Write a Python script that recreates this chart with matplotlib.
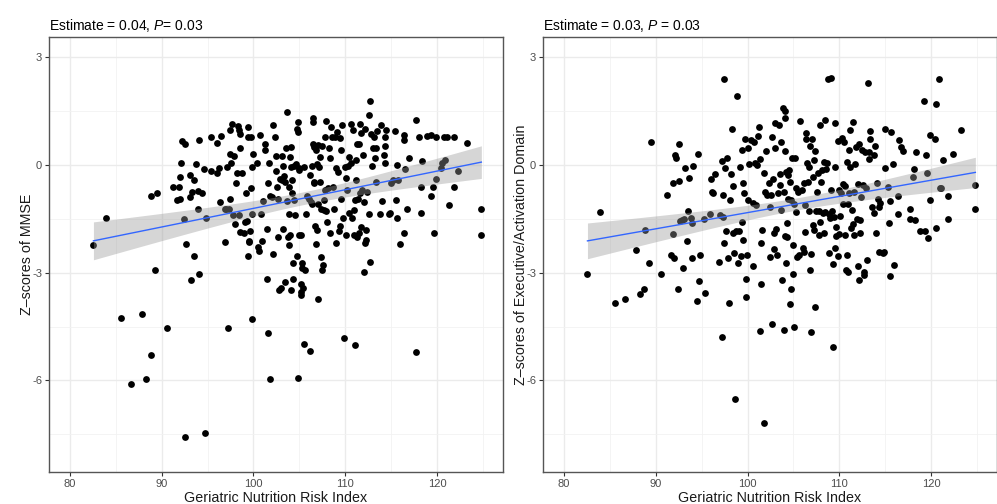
"""Scatter plots of GNRI against cognitive z-scores with linear fits."""

import numpy as np
import matplotlib

matplotlib.use("Agg")
import matplotlib.pyplot as plt

plt.rcParams["font.family"] = ["Liberation Sans", "DejaVu Sans"]
plt.rcParams["mathtext.fontset"] = "custom"
plt.rcParams["mathtext.rm"] = "Liberation Sans"
plt.rcParams["mathtext.it"] = "Liberation Sans:italic"
plt.rcParams["axes.unicode_minus"] = False

# --- data ------------------------------------------------------------------
GNRI_MMSE = [
    82.55, 83.96, 85.56, 86.65, 87.85, 88.25, 88.8, 88.87, 89.27, 89.53,
    90.55, 91.24, 91.93, 91.67, 92.0, 91.96, 92.15, 92.22, 92.58, 92.47,
    92.65, 92.5, 93.05, 93.09, 93.2, 93.27, 93.49, 93.49, 93.75, 93.93,
    94.0, 94.04, 94.11, 94.44, 94.55, 94.76, 94.87, 95.38, 95.35, 96.0,
    96.04, 96.25, 96.33, 96.47, 96.84, 96.84, 97.0, 97.2, 97.09, 97.3,
    97.42, 97.45, 97.49, 97.56, 97.67, 97.75, 97.82, 97.96, 98.04, 98.18,
    98.36, 98.4, 98.47, 98.51, 98.55, 98.58, 98.8, 98.95, 99.05, 99.13,
    99.24, 99.35, 99.38, 99.42, 99.53, 99.6, 99.56, 99.75, 99.78, 99.82,
    99.85, 99.89, 100.0, 100.33, 100.47, 100.58, 100.76, 100.84, 100.95, 101.09,
    101.2, 101.27, 101.42, 101.49, 101.53, 101.53, 101.67, 101.85, 101.85, 102.04,
    102.11, 102.11, 102.36, 102.47, 102.5, 102.58, 102.65, 102.65, 102.73, 102.84,
    103.02, 103.09, 103.13, 103.2, 103.24, 103.31, 103.45, 103.45, 103.56, 103.64,
    103.67, 103.75, 103.82, 103.82, 103.89, 103.96, 104.0, 104.04, 104.07, 104.11,
    104.15, 104.25, 104.29, 104.33, 104.4, 104.47, 104.55, 104.65, 104.69, 104.76,
    104.8, 104.84, 104.84, 104.91, 104.95, 104.98, 105.13, 105.16, 105.2, 105.2,
    105.27, 105.31, 105.38, 105.49, 105.56, 105.64, 105.75, 105.85, 106.07, 106.11,
    106.15, 106.29, 106.33, 106.4, 106.47, 106.47, 106.47, 106.55, 106.58, 106.65,
    106.69, 106.8, 106.84, 106.87, 106.95, 107.02, 107.02, 107.02, 107.09, 107.2,
    107.27, 107.31, 107.38, 107.42, 107.45, 107.53, 107.64, 107.67, 107.75, 107.78,
    107.93, 107.93, 108.0, 108.11, 108.18, 108.29, 108.36, 108.47, 108.55, 108.65,
    108.8, 108.87, 108.95, 109.02, 109.13, 109.2, 109.27, 109.38, 109.45, 109.56,
    109.64, 109.56, 109.75, 109.85, 109.93, 110.04, 110.11, 110.18, 110.29, 110.36,
    110.44, 110.58, 110.65, 110.76, 110.84, 110.91, 110.95, 111.02, 111.05, 111.13,
    111.2, 111.27, 111.31, 111.38, 111.45, 111.53, 111.56, 111.64, 111.67, 111.75,
    111.82, 111.93, 112.0, 112.04, 112.11, 112.18, 112.22, 112.29, 112.4, 112.55,
    112.62, 112.69, 112.73, 112.84, 112.91, 113.02, 113.13, 113.2, 113.31, 113.38,
    113.45, 113.82, 113.93, 114.02, 114.18, 114.29, 114.29, 114.36, 114.47, 114.73,
    114.84, 115.02, 115.2, 115.38, 115.56, 115.64, 115.64, 115.75, 115.93, 116.36,
    116.4, 116.4, 116.55, 116.76, 116.91, 117.67, 117.75, 118.04, 118.22, 118.29,
    118.36, 118.95, 119.31, 119.38, 119.56, 119.64, 119.85, 119.93, 120.4, 120.55,
    120.76, 120.84, 121.09, 121.31, 121.82, 121.85, 122.29, 123.31, 124.84, 124.84,
]
Z_MMSE = [
    -2.23, -1.47, -4.27, -6.11, -4.15, -5.96, -5.28, -0.86, -2.92, -0.77,
    -4.55, -0.62, -0.62, -0.97, -0.95, -0.32, 0.05, 0.67, 0.60, -1.49,
    -2.21, -7.58, -0.88, -0.28, -3.21, -0.76, -0.42, -2.53, 0.03, -0.71,
    -1.23, -3.04, 0.71, -0.77, -0.12, -7.47, -1.47, 0.79, -0.15, 0.63,
    -0.21, -0.09, -1.04, 0.81, -2.14, -1.21, -1.23, -4.55, -0.05, -1.22,
    0.97, -0.93, 0.30, 0.06, 1.15, -1.39, 0.26, -1.64, -0.49, -0.21,
    1.09, -1.39, 0.97, 0.86, -1.85, 0.48, -0.23, -1.89, -1.58, -0.77,
    -1.56, -2.53, 1.06, 0.79, -2.11, -1.83, -2.15, 0.79, -0.63, -0.05,
    -1.36, -4.3, 0.32, 0.05, -2.27, -2.40, 0.84, -1.35, -2.11, -1.0,
    0.58, 0.42, -3.17, -1.77, -0.51, -4.69, 0.07, -5.96, -0.86, -0.88,
    1.11, -2.48, 0.79, 0.26, -0.17, -0.62, -0.95, -2.0, -3.48, -0.40,
    -3.42, -0.42, 0.26, -1.79, -0.02, -0.31, -0.46, -3.25, 0.48, -1.0,
    1.49, -2.0, -2.23, -1.36, -0.6, -1.96, 0.23, -3.48, -0.05, 0.51,
    -0.77, -0.42, -2.72, -3.17, -0.02, -0.96, -1.39, 0.03, -2.53, 1.02,
    -5.94, 1.21, 0.93, -0.14, -0.08, -1.95, -3.31, -3.62, -1.95, -3.53,
    -2.74, -2.86, -3.41, -0.06, -4.97, -2.91, -1.35, -0.86, -0.93, -0.28,
    -5.18, -1.02, -0.02, -1.07, 1.30, 1.21, 0.58, -0.51, -0.46, 0.51,
    -1.70, 0.42, -2.21, 0.03, -1.81, -3.74, 0.56, -1.09, -0.05, 0.23,
    -0.46, -2.55, -1.21, -2.91, 0.53, -2.79, -1.25, -0.97, 0.79, -0.68,
    1.23, -1.27, -1.58, -0.65, 0.48, 0.19, -1.90, 1.07, 0.79, -0.62,
    -1.23, 0.79, -0.09, -2.16, 0.93, -0.19, -1.84, 0.76, -1.70, 0.42,
    1.13, -0.95, -1.46, -4.81, -0.05, -0.37, -1.95, -0.70, -0.02, -1.33,
    0.23, 1.14, 0.05, -1.47, 0.97, -1.25, -1.95, -5.0, -0.97, -0.42,
    0.14, 0.58, -2.0, -0.93, -1.90, 0.60, -0.79, 1.15, -1.72, 0.90,
    -0.70, 0.28, -2.97, -1.02, 1.02, -2.18, -1.81, -2.09, -0.74, 1.41,
    -1.35, 1.78, -2.71, 0.88, -0.02, 0.48, 0.77, 0.19, -0.46, 0.48,
    0.95, -1.35, 1.11, -1.0, 0.28, 0.07, 0.54, 0.79, 0.99, -1.35,
    -1.33, -0.49, -0.42, 0.96, -0.96, 0.0, -1.46, -0.42, -2.21, 0.84,
    0.71, -1.90, -0.11, -1.23, 0.20, 1.27, -5.2, 0.79, -0.62, -1.32,
    0.12, 0.81, 0.85, -0.86, -0.62, -1.90, 0.79, -0.40, -0.09, 0.05,
    0.79, 0.14, 0.79, -1.10, 0.79, -0.60, -0.16, 0.63, -1.23, -1.95,
]

GNRI_EXEC = [
    82.55, 83.93, 85.56, 86.65, 87.82, 88.29, 88.76, 88.84, 89.27, 89.53,
    90.55, 91.2, 91.64, 91.85, 91.93, 92.0, 92.11, 92.22, 92.47, 92.51,
    92.58, 92.65, 92.84, 93.02, 93.09, 93.2, 93.38, 93.49, 93.67, 93.82,
    93.93, 94.0, 94.04, 94.47, 94.55, 94.73, 94.84, 95.38, 95.31, 95.93,
    96.0, 96.18, 96.29, 96.47, 96.84, 97.02, 97.2, 97.2, 97.38, 97.45,
    97.38, 97.49, 97.56, 97.64, 97.75, 97.82, 97.93, 98.04, 98.18, 98.36,
    98.47, 98.47, 98.55, 98.65, 98.73, 98.84, 98.95, 99.02, 99.13, 99.27,
    99.45, 99.45, 99.49, 99.56, 99.64, 99.75, 99.82, 99.85, 99.93, 100.0,
    100.0, 100.11, 100.36, 100.55, 100.62, 100.76, 100.84, 100.95, 101.02, 101.09,
    101.24, 101.31, 101.38, 101.42, 101.49, 101.53, 101.75, 101.85, 101.96, 102.04,
    102.11, 102.29, 102.4, 102.47, 102.55, 102.65, 102.69, 102.76, 102.84, 102.91,
    103.02, 103.05, 103.13, 103.2, 103.27, 103.38, 103.49, 103.56, 103.64, 103.67,
    103.75, 103.85, 103.93, 104.0, 104.04, 104.11, 104.11, 104.11, 104.18, 104.22,
    104.29, 104.29, 104.36, 104.4, 104.47, 104.58, 104.65, 104.73, 104.76, 104.84,
    104.91, 104.95, 105.02, 105.09, 105.2, 105.27, 105.31, 105.38, 105.49, 105.64,
    105.75, 105.93, 106.0, 106.11, 106.18, 106.22, 106.29, 106.36, 106.4, 106.47,
    106.55, 106.65, 106.73, 106.8, 106.84, 106.91, 106.95, 107.02, 107.09, 107.13,
    107.2, 107.27, 107.31, 107.38, 107.45, 107.56, 107.64, 107.75, 107.82, 107.85,
    107.93, 108.0, 108.11, 108.18, 108.29, 108.36, 108.4, 108.47, 108.55, 108.65,
    108.76, 108.84, 108.91, 109.02, 109.09, 109.13, 109.2, 109.27, 109.35, 109.45,
    109.49, 109.56, 109.56, 109.64, 109.67, 109.82, 109.85, 109.93, 110.0, 110.11,
    110.18, 110.29, 110.36, 110.4, 110.47, 110.58, 110.65, 110.73, 110.84, 110.84,
    110.91, 110.95, 111.02, 111.09, 111.16, 111.2, 111.27, 111.38, 111.45, 111.53,
    111.56, 111.64, 111.75, 111.85, 111.93, 112.0, 112.04, 112.11, 112.18, 112.22,
    112.29, 112.36, 112.47, 112.58, 112.65, 112.73, 112.84, 112.91, 113.02, 113.09,
    113.2, 113.27, 113.31, 113.38, 113.56, 113.75, 113.82, 113.93, 114.0, 114.11,
    114.18, 114.29, 114.36, 114.47, 114.73, 114.91, 115.02, 115.02, 115.27, 115.38,
    115.56, 115.56, 115.67, 115.82, 115.93, 116.36, 116.4, 116.47, 116.76, 116.91,
    117.67, 117.75, 118.04, 118.18, 118.29, 118.36, 118.84, 119.27, 119.38, 119.49,
    119.56, 119.64, 119.93, 119.93, 120.4, 120.55, 120.55, 120.84, 120.95, 121.13,
    121.31, 121.82, 121.85, 122.36, 123.31, 124.84, 124.84,
]
Z_EXEC = [
    -3.04, -1.30, -3.85, -3.73, -2.37, -3.59, -3.46, -1.81, -2.74, 0.65,
    -3.04, -0.82, -2.51, -0.51, -1.92, -2.6, 0.28, 0.20, -3.44, 0.58,
    -0.45, -1.55, -1.53, -2.88, -1.51, -0.07, -2.12, -1.28, -0.35, -1.46,
    -1.61, -2.58, -0.02, -3.79, 0.32, -3.23, -2.51, -3.57, -1.49, -1.35,
    -0.39, -0.74, -0.79, -0.26, -2.69, -1.39, -4.8, 0.11, -1.44, 2.40,
    -0.82, -2.18, -0.07, -1.84, 0.19, -2.6, -3.85, -0.97, -0.26, 1.0,
    -0.58, -1.90, -2.46, -6.52, -1.84, 1.93, -2.74, -1.84, -0.05, -2.53,
    -1.58, 0.42, -0.51, -2.09, -0.79, 0.74, -3.18, -3.67, -2.51, 0.48,
    -0.97, 0.02, 0.70, -1.05, -2.81, 0.65, 0.06, -1.10, 0.0, 0.82,
    1.05, 0.16, -4.61, -3.31, -2.18, -1.81, -0.21, -7.18, -0.74, 0.40,
    -0.84, -0.51, -1.16, -2.57, -0.84, 0.77, -4.43, -0.40, -1.88, -2.35,
    0.48, 1.18, -1.79, -2.51, -0.77, 1.13, -0.26, -0.56, 0.65, -1.25,
    -3.20, 1.58, -4.60, -0.74, -1.98, 1.30, 1.50, 0.39, -2.74, -0.19,
    -2.0, -1.61, -0.28, -0.93, -0.14, -3.88, -0.46, -0.97, -3.46, 0.19,
    -3.02, -2.23, -4.50, -1.09, 0.19, -0.65, -1.30, -2.55, -0.74, -2.51,
    1.23, -0.70, -2.32, -2.41, -0.49, -1.11, -1.86, 0.90, 0.72, 0.05,
    -0.46, -0.05, -1.27, -2.92, 0.53, -2.48, -4.66, 0.72, -1.67, -0.32,
    -1.81, 0.14, -3.95, 0.40, -1.27, -0.74, -0.23, -1.27, -1.95, 1.11,
    -1.58, -0.46, -0.14, -1.33, -1.90, 0.09, 1.25, -1.30, -0.12, 0.06,
    2.40, -2.46, -1.35, -1.46, -0.70, 2.44, -1.28, -2.76, -5.08, -1.44,
    -0.05, 1.16, -2.32, -1.72, -1.98, -2.53, 0.68, -1.92, -0.70, -1.42,
    -0.79, 0.76, -1.07, -0.53, 0.65, -1.95, -0.58, -2.92, -2.51, 0.09,
    -1.07, -2.97, 0.42, -0.79, 0.97, -0.05, -1.76, -1.25, 1.21, -1.64,
    -1.95, -0.74, 0.02, 0.51, -1.49, -2.81, -0.53, 0.58, -3.20, -1.53,
    -1.88, -0.90, 0.42, -0.56, -2.97, -3.05, 0.37, -0.63, -2.63, 2.29,
    0.37, 0.16, 0.95, 0.74, -1.16, -1.33, 0.28, 0.54, -1.90, -0.51,
    -0.93, -2.41, -1.16, -1.05, -2.46, -2.41, 1.02, -0.07, -0.60, -1.62,
    -1.0, -3.09, 0.93, 0.02, -2.77, -0.86, -1.35, 0.70, 0.51, 0.40,
    -1.21, -1.50, -0.32, -0.12, -1.53, 0.37, -1.84, 1.79, -1.84, 0.28,
    -0.23, -2.02, 0.85, -0.97, 0.72, 1.70, -1.76, 2.41, -0.65, -0.65,
    0.14, -0.86, -1.51, 0.30, 0.97, -0.54, -1.21,
]

PANELS = [
    ("Estimate = 0.04, $\\mathit{P}$= 0.03", "Z\u2013scores of MMSE"),
    ("Estimate = 0.03, $\\mathit{P}$ = 0.03",
     "Z\u2013scores of Executive/Activation Domain"),
]
X_LABEL = "Geriatric Nutrition Risk Index"
X_TICKS = [80, 90, 100, 110, 120]
X_MINOR = [85, 95, 105, 115, 125]
Y_TICKS = [-6, -3, 0, 3]
Y_MINOR = [-7.5, -4.5, -1.5, 1.5]
T_CRIT = 1.968  # two-sided 95% t quantile, n ~ 300


def lm_band(x, y):
    """Least-squares line with a 95% confidence band, like geom_smooth(lm)."""
    x = np.asarray(x, dtype=float)
    y = np.asarray(y, dtype=float)
    slope, intercept = np.polyfit(x, y, 1)
    grid = np.linspace(x.min(), x.max(), 80)
    fit = intercept + slope * grid
    resid = y - (intercept + slope * x)
    n = len(x)
    s = np.sqrt(np.sum(resid ** 2) / (n - 2))
    se = s * np.sqrt(1 / n + (grid - x.mean()) ** 2 / np.sum((x - x.mean()) ** 2))
    return grid, fit, fit - T_CRIT * se, fit + T_CRIT * se


def draw_panel(ax, x, y, title, ylabel):
    grid, fit, lo, hi = lm_band(x, y)
    ax.scatter(x, y, s=24, color="black", linewidths=0, zorder=3)
    ax.fill_between(grid, lo, hi, color="#999999", alpha=0.4, linewidth=0, zorder=4)
    ax.plot(grid, fit, color="#3366FF", lw=1.0, zorder=5)

    ax.set_xlim(77.7, 127.2)
    ax.set_ylim(-8.55, 3.57)
    ax.set_xticks(X_TICKS)
    ax.set_xticks(X_MINOR, minor=True)
    ax.set_yticks(Y_TICKS)
    ax.set_yticks(Y_MINOR, minor=True)
    ax.grid(which="major", color="#EBEBEB", lw=1.0)
    ax.grid(which="minor", color="#F2F2F2", lw=0.6)
    ax.set_axisbelow(True)
    ax.tick_params(which="major", length=3, width=0.8, color="#333333",
                   labelcolor="#4D4D4D", labelsize=8, pad=2)
    ax.tick_params(which="minor", length=0)
    for sp in ax.spines.values():
        sp.set_color("#555555")
        sp.set_linewidth(1.0)

    ax.set_title(title, loc="left", fontsize=10, color="black", pad=5)
    ax.set_ylabel(ylabel, fontsize=10.3, color="#1A1A1A")
    ax.yaxis.set_label_coords(-0.034, 0.5)
    ax.set_xlabel(X_LABEL, fontsize=10.3, color="#1A1A1A")
    ax.xaxis.set_label_coords(0.5, -0.044)


fig = plt.figure(figsize=(9.97, 5.04), dpi=100)
ax1 = fig.add_axes([0.0491, 0.0635, 0.4554, 0.8631])
ax2 = fig.add_axes([0.5446, 0.0635, 0.4554, 0.8631])

draw_panel(ax1, GNRI_MMSE, Z_MMSE, *PANELS[0])
draw_panel(ax2, GNRI_EXEC, Z_EXEC, *PANELS[1])

fig.savefig("out.png", dpi=100)
plt.close(fig)
